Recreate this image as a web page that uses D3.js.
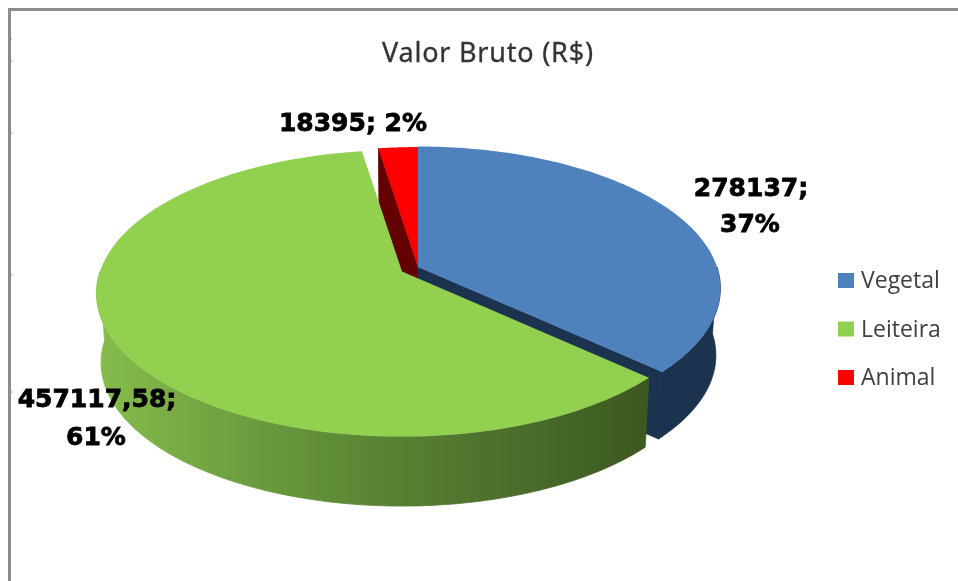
<!DOCTYPE html>
<html>
<head>
<meta charset="utf-8">
<script src="https://cdn.jsdelivr.net/npm/d3@7"></script>
<style>
html, body { margin: 0; padding: 0; background: #fff; overflow: hidden; }
svg { display: block; filter: blur(0.5px); }
</style>
</head>
<body>
<svg id="chart" width="958" height="581"></svg>
<script>
// Data
const categories = ["Vegetal", "Leiteira", "Animal"];
const values = [278137, 457117.58, 18395];
const topColors = ["#4f81bd", "#92d050", "#ff0000"];
const wallColors = ["#1c3350", "url(#greenWall)", "#650000"];
const borderTicks = [39, 61, 133, 275, 392];

const svg = d3.select("#chart");
const total = d3.sum(values);

// Pie geometry: a tilted disc seen in perspective
const rx = 302, ry = 140, k = 0.152, bottomScale = 0.985;
const centers = [[418, 267], [402, 271.5], [418, 267]];
const sliceScale = [0.99, 1, 0.985];
const depths = [67, 69.5, 67];
// the rim only shows on the near side of the disc (radians from 12 o'clock)
const nearSideStart = Math.PI / 2, nearSideEnd = 3 * Math.PI / 2;

const project = (i, angle, lower) => {
    const c = centers[i], r = sliceScale[i];
    const u = Math.sin(angle) * r, v = -Math.cos(angle) * r;
    const w = 1 / (1 - k * v);
    const s = lower ? bottomScale : 1;
    return [c[0] + rx * u * w * s, c[1] + ry * v * w + (lower ? depths[i] : 0)];
};

const arcPoints = (i, a0, a1, lower) =>
    d3.range(0, 121).map(n => project(i, a0 + (a1 - a0) * n / 120, lower));

const line = d3.line();
const pie = d3.pie().sort(null)(values);

// gradient for the green rim
const grad = svg.append("defs").append("linearGradient")
    .attr("id", "greenWall")
    .attr("gradientUnits", "userSpaceOnUse")
    .attr("x1", 100).attr("x2", 650).attr("y1", 0).attr("y2", 0);
grad.selectAll("stop")
    .data([[0, "#86bc4c"], [0.3, "#6a993d"], [0.5, "#5a8434"], [0.8, "#48692a"], [1, "#3c581f"]])
    .join("stop")
    .attr("offset", d => d[0])
    .attr("stop-color", d => d[1]);

// Chart frame, cropped at the picture edges
svg.append("path")
    .attr("d", "M9.5 581V9.5H958")
    .attr("fill", "none")
    .attr("stroke", "#8c8c8c")
    .attr("stroke-width", 3);
svg.selectAll(".tick-mark")
    .data(borderTicks)
    .join("line")
    .attr("x1", 8).attr("x2", 12)
    .attr("y1", d => d).attr("y2", d => d)
    .attr("stroke", "#8c8c8c");

const layer = svg.append("g");

// walls get a thin stroke of their own colour so no seam shows between them
const wall = (i, p) => {
    layer.append("path")
        .attr("d", line(p) + "Z")
        .attr("fill", wallColors[i])
        .attr("stroke", wallColors[i])
        .attr("stroke-width", 0.8);
};
const cutWall = (i, angle) => {
    const c = centers[i];
    wall(i, [c, project(i, angle, false), project(i, angle, true), [c[0], c[1] + depths[i]]]);
};
const rimWall = (i, a0, a1) => {
    const from = Math.max(a0, nearSideStart), to = Math.min(a1, nearSideEnd);
    wall(i, arcPoints(i, from, to, false).concat(arcPoints(i, from, to, true).reverse()));
};
const topFace = i => {
    const p = [centers[i]].concat(arcPoints(i, pie[i].startAngle, pie[i].endAngle, false));
    layer.append("path").attr("d", line(p) + "Z").attr("fill", topColors[i]);
};

// back to front: red and blue first, the green slice sits over them
cutWall(2, pie[2].startAngle);
rimWall(0, pie[0].startAngle, pie[0].endAngle);
cutWall(0, pie[0].endAngle);
topFace(2);
topFace(0);
rimWall(1, pie[1].startAngle, pie[1].endAngle);
topFace(1);

// Title
svg.append("text")
    .attr("x", 382).attr("y", 62)
    .attr("textLength", 211)
    .style("font-family", "'Noto Sans'")
    .style("font-size", "27px")
    .style("fill", "#333")
    .style("stroke", "#333")
    .style("stroke-width", 0.3)
    .text("Valor Bruto (R$)");

// Data labels
const valueText = v => String(v).replace(".", ",");
const pct = v => d3.format(".0f")(v / total * 100) + "%";
const labelRows = [
    { i: 0, x: 751, y: 196, text: d => valueText(values[d]) + ";" },
    { i: 0, x: 750, y: 232, text: d => pct(values[d]) },
    { i: 1, x: 97, y: 407, text: d => valueText(values[d]) + ";" },
    { i: 1, x: 96, y: 445, text: d => pct(values[d]) },
    { i: 2, x: 353, y: 131, text: d => valueText(values[d]) + "; " + pct(values[d]) }
];
svg.selectAll(".data-label")
    .data(labelRows)
    .join("text")
    .attr("class", "data-label")
    .attr("x", d => d.x).attr("y", d => d.y)
    .attr("text-anchor", "middle")
    .style("font-family", "'DejaVu Sans'")
    .style("font-weight", "bold")
    .style("font-size", "25px")
    .style("fill", "#000")
    .style("stroke", "#000")
    .style("stroke-width", 0.8)
    .text(d => d.text(d.i));

// Legend
const legend = d3.scalePoint().domain(categories).range([280.5, 377.5]);
svg.selectAll(".swatch")
    .data(categories)
    .join("rect")
    .attr("class", "swatch")
    .attr("x", 838).attr("width", 16)
    .attr("y", d => legend(d) - 7.5).attr("height", 15)
    .attr("fill", (d, i) => topColors[i]);
svg.selectAll(".legend-label")
    .data(categories)
    .join("text")
    .attr("class", "legend-label")
    .attr("x", 861)
    .attr("y", d => legend(d) + 7.5)
    .style("font-family", "'Open Sans'")
    .style("font-size", "23px")
    .style("fill", "#404040")
    .text(d => d);
</script>
</body>
</html>
